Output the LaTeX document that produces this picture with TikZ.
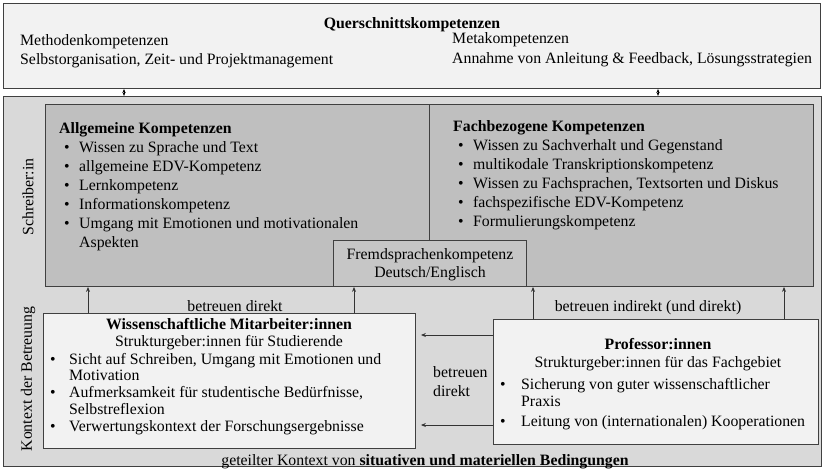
\documentclass[tikz,border=0pt]{standalone}
\usepackage{fontspec}
\setmainfont{Liberation Serif}
\usetikzlibrary{arrows.meta,positioning}

\newcommand{\bul}[1][20pt]{\makebox[#1][l]{\hspace{5pt}\textbullet}}
\newcommand{\weiter}[1][20pt]{\hspace*{#1}}

\begin{document}
\begin{tikzpicture}[x=1pt,y=-1pt,
	box/.style={draw=black!75, line width=0.9pt, anchor=north west, inner sep=0pt},
	txt/.style={anchor=base west, inner sep=0pt, align=left, font=\fontsize{15.8}{19}\selectfont},
	ctxt/.style={anchor=base, inner sep=0pt, align=center, font=\fontsize{15.8}{18}\selectfont},
	arr/.style={-{Stealth[length=5pt,width=4pt]}, line width=0.8pt, draw=black!80},
	dbl/.style={{Stealth[length=4pt,width=3pt]}-{Stealth[length=4pt,width=3pt]}, line width=0.8pt}]
		\useasboundingbox (0,0) rectangle (824,469);

		\draw (3,3) node [box, fill=gray!10, minimum width=817pt, minimum height=85pt] (quer) {};
		\draw (3,96) node [box, fill=gray!30, minimum width=818pt, minimum height=370pt] (outer) {};
		\draw (45,104) node [box, fill=gray!50, minimum width=768pt, minimum height=182pt] (schreib) {};
		\draw (333,240) node [box, fill=gray!45, minimum width=193pt, minimum height=46pt] (fremd) {};
		\draw (43,313) node [box, fill=gray!10, minimum width=372pt, minimum height=135pt] (wiss) {};
		\draw (493,319) node [box, fill=gray!10, minimum width=325pt, minimum height=125pt] (prof) {};

		\coordinate (div) at ([xshift=384pt]schreib.north west);
		\draw [draw=black!75, line width=0.9pt] (div) -- (div |- fremd.north);

		\draw (412,28) node [ctxt] (quertitel) {\textbf{Querschnittskompetenzen}};
		\draw (20,45) node [txt] (methoden) {Methodenkompetenzen};
		\draw (20,64) node [txt] (selbst) {Selbstorganisation, Zeit- und Projektmanagement};
		\draw (452,43) node [txt] (meta) {Metakompetenzen};
		\draw (452,63) node [txt] (annahme) {Annahme von Anleitung \& Feedback, Lösungsstrategien};

		\draw (59,247) node [txt] (allg) {\textbf{Allgemeine Kompetenzen}\\
			\bul Wissen zu Sprache und Text\\
			\bul allgemeine EDV-Kompetenz\\
			\bul Lernkompetenz\\
			\bul Informationskompetenz\\
			\bul Umgang mit Emotionen und motivationalen\\
			\weiter Aspekten};
		\draw (453,226) node [txt] (fach) {\textbf{Fachbezogene Kompetenzen}\\
			\bul Wissen zu Sachverhalt und Gegenstand\\
			\bul multikodale Transkriptionskompetenz\\
			\bul Wissen zu Fachsprachen, Textsorten und Diskus\\
			\bul fachspezifische EDV-Kompetenz\\
			\bul Formulierungskompetenz};
		\draw (430,277) node [ctxt] (fremdtxt) {Fremdsprachenkompetenz\\Deutsch/Englisch};

		\draw (229,329) node [ctxt] (wisstitel) {\textbf{Wissenschaftliche Mitarbeiter:innen}};
		\draw (229,346) node [ctxt] (wissrolle) {Strukturgeber:innen für Studierende};
		\draw (45,431) node [txt, font=\fontsize{15.8}{16.75}\selectfont] (wissliste) {%
			\bul[24pt]Sicht auf Schreiben, Umgang mit Emotionen und\\
			\weiter[24pt]Motivation\\
			\bul[24pt]Aufmerksamkeit für studentische Bedürfnisse,\\
			\weiter[24pt]Selbstreflexion\\
			\bul[24pt]Verwertungskontext der Forschungsergebnisse};

		\draw (658,349) node [ctxt] (proftitel) {\textbf{Professor:innen}};
		\draw (658,367) node [ctxt] (profrolle) {Strukturgeber:innen für das Fachgebiet};
		\draw (495,426) node [txt, font=\fontsize{15.8}{17}\selectfont] (profliste) {%
			\bul[26pt]Sicherung von guter wissenschaftlicher\\
			\weiter[26pt]Praxis\\[3pt]
			\bul[26pt]Leitung von (internationalen) Kooperationen};

		\draw (28,197) node [rotate=90, inner sep=0pt, font=\fontsize{15.8}{19}\selectfont] (schreiber) {Schreiber:in};
		\draw (28,379) node [rotate=90, inner sep=0pt, font=\fontsize{15.8}{19}\selectfont] (kontext) {Kontext der Betreuung};

		\draw (235,311) node [ctxt] (direkt) {betreuen direkt};
		\draw (648,311) node [ctxt] (indirekt) {betreuen indirekt (und direkt)};
		\draw (433,396) node [txt] (direktmitte) {betreuen\\direkt};
		\draw (425,465) node [ctxt] (kontextzeile) {geteilter Kontext von \textbf{situativen und materiellen Bedingungen}};

		\coordinate (q1) at ([xshift=121pt]quer.south west);
		\coordinate (q2) at ([xshift=655pt]quer.south west);
		\coordinate (w1) at ([xshift=45pt]wiss.north west);
		\coordinate (w2) at ([xshift=311pt]wiss.north west);
		\coordinate (p1) at ([xshift=40pt]prof.north west);
		\coordinate (p2) at ([xshift=291pt]prof.north west);
		\coordinate (h1) at ([yshift=-16pt]prof.north west);
		\coordinate (h2) at ([yshift=-106pt]prof.north west);

		\draw [dbl] (q1) -- (q1 |- outer.north);
		\draw [dbl] (q2) -- (q2 |- outer.north);
		\draw [arr] (w1) -- (w1 |- schreib.south);
		\draw [arr] (w2) -- (w2 |- schreib.south);
		\draw [arr] (p1) -- (p1 |- schreib.south);
		\draw [arr] (p2) -- (p2 |- schreib.south);
		\draw [arr, shorten >=5pt] (h1) -- (h1 -| wiss.east);
		\draw [arr, shorten >=5pt] (h2) -- (h2 -| wiss.east);
	\end{tikzpicture}
\end{document}
